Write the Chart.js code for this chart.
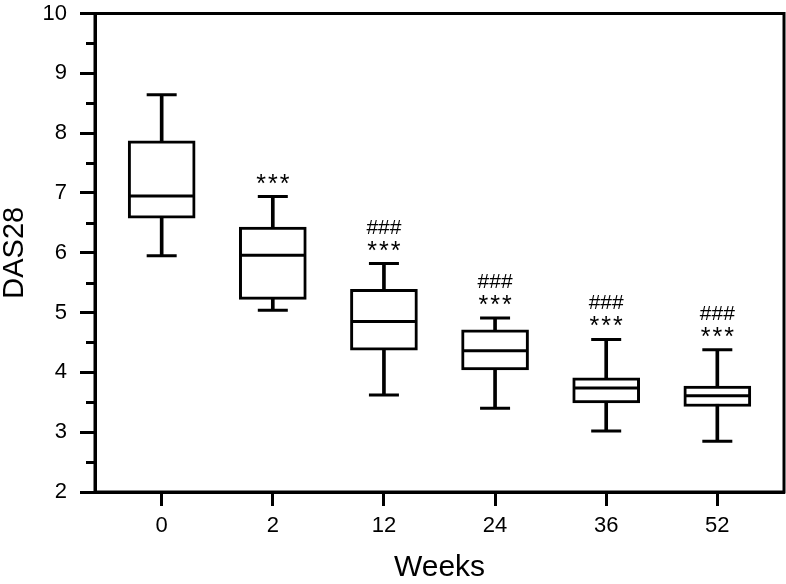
<!DOCTYPE html>
<html>
<head>
<meta charset="utf-8">
<script src="https://cdn.jsdelivr.net/npm/chart.js@4/dist/chart.umd.min.js"></script>
<style>
  body { margin: 0; background: #fff; }
  canvas { display: block; }
</style>
</head>
<body>
<canvas id="chart" width="786" height="584"></canvas>
<script>
// DAS28 per visit (box plot)
const weeks = ['0', '2', '12', '24', '36', '52'];
const whiskerLow = [5.95, 5.04, 3.62, 3.40, 3.02, 2.85];
const q1 = [6.58, 5.22, 4.37, 4.04, 3.49, 3.43];
const median = [6.95, 5.96, 4.85, 4.36, 3.74, 3.61];
const q3 = [7.87, 6.43, 5.39, 4.71, 3.91, 3.77];
const whiskerHigh = [8.64, 6.94, 5.82, 4.91, 4.55, 4.38];
// significance marks above each box
const vsBaseline = ['', '***', '***', '***', '***', '***'];
const vsWeek2 = ['', '', '###', '###', '###', '###'];
const yTicks = [2, 3, 4, 5, 6, 7, 8, 9, 10];

const FONT = '"Liberation Sans", Arial, Helvetica, sans-serif';
const point = (vals) => vals.map((v, i) => ({ x: i, y: v }));

// short ticks at the half units + frame round the plot
const framePlugin = {
  id: 'frame',
  afterDraw(chart) {
    const { ctx, chartArea, scales } = chart;
    ctx.save();
    ctx.strokeStyle = '#000';
    ctx.lineWidth = 3;
    for (let v = 2.5; v < 10; v += 1) {
      const y = Math.round(scales.y.getPixelForValue(v)) + 0.5;
      ctx.beginPath();
      ctx.moveTo(chartArea.left - 9, y);
      ctx.lineTo(chartArea.left, y);
      ctx.stroke();
    }
    ctx.strokeRect(chartArea.left, chartArea.top, chartArea.right - chartArea.left, chartArea.bottom - chartArea.top);
    ctx.restore();
  }
};

const marksPlugin = {
  id: 'marks',
  afterDatasetsDraw(chart) {
    const { ctx, scales } = chart;
    ctx.save();
    ctx.fillStyle = '#000';
    ctx.textAlign = 'center';
    ctx.textBaseline = 'alphabetic';
    weeks.forEach((w, i) => {
      const x = scales.x.getPixelForValue(i);
      const top = scales.y.getPixelForValue(whiskerHigh[i]);
      if (vsBaseline[i]) {
        ctx.font = '25px ' + FONT;
        ctx.letterSpacing = '2px';
        ctx.fillText(vsBaseline[i], x + 1, top - 5);
      }
      if (vsWeek2[i]) {
        ctx.font = '21px ' + FONT;
        ctx.letterSpacing = '0px';
        ctx.fillText(vsWeek2[i], x, top - 30);
      }
    });
    ctx.restore();
  }
};

const data = {
  datasets: [
    {
      type: 'line',
      data: point(median),
      showLine: false,
      pointStyle: 'line',
      pointRadius: 32,
      pointBorderWidth: 3,
      borderColor: '#000',
      order: 0
    },
    {
      type: 'line',
      data: point(whiskerHigh),
      showLine: false,
      pointStyle: 'line',
      pointRadius: 15,
      pointBorderWidth: 3,
      borderColor: '#000',
      order: 0
    },
    {
      type: 'line',
      data: point(whiskerLow),
      showLine: false,
      pointStyle: 'line',
      pointRadius: 15,
      pointBorderWidth: 3,
      borderColor: '#000',
      order: 0
    },
    {
      type: 'bar',
      data: weeks.map((w, i) => ({ x: i, y: [q1[i], q3[i]] })),
      backgroundColor: '#fff',
      borderColor: '#000',
      borderWidth: 3,
      borderSkipped: false,
      barThickness: 67,
      grouped: false,
      order: 1
    },
    {
      type: 'bar',
      data: weeks.map((w, i) => ({ x: i, y: [whiskerLow[i], whiskerHigh[i]] })),
      backgroundColor: '#000',
      borderWidth: 0,
      barThickness: 3,
      grouped: false,
      order: 2
    }
  ]
};

const options = {
  responsive: false,
  animation: false,
  events: [],
  layout: { autoPadding: false, padding: { top: 0, right: 2, left: 0, bottom: 0 } },
  plugins: {
    legend: { display: false },
    tooltip: { enabled: false }
  },
  scales: {
    x: {
      type: 'linear',
      offset: false,
      min: -0.6,
      max: 5.6,
      afterBuildTicks: (scale) => { scale.ticks = weeks.map((w, i) => ({ value: i })); },
      afterFit: (scale) => { scale.height = 92; },
      border: { display: true, color: '#000', width: 3 },
      grid: { offset: false, drawOnChartArea: false, color: '#000', tickLength: 14, tickWidth: 3 },
      ticks: {
        color: '#000',
        padding: 7,
        font: { family: FONT, size: 22 },
        callback: (value) => weeks[value]
      },
      title: {
        display: true,
        text: 'Weeks',
        color: '#000',
        font: { family: FONT, size: 30, lineHeight: 1 },
        padding: { top: 0, bottom: 1 }
      }
    },
    y: {
      min: 2,
      max: 10,
      afterBuildTicks: (scale) => { scale.ticks = yTicks.map((v) => ({ value: v })); },
      afterFit: (scale) => {
        scale.width = 95;
        scale.paddingTop = 13.5;
        scale.paddingBottom = 0;
      },
      border: { display: true, color: '#000', width: 3 },
      grid: { drawOnChartArea: false, color: '#000', tickLength: 15, tickWidth: 3 },
      ticks: {
        color: '#000',
        padding: 13,
        font: { family: FONT, size: 22 }
      },
      title: {
        display: true,
        text: 'DAS28',
        color: '#000',
        font: { family: FONT, size: 29, lineHeight: 1 },
        padding: { top: 0, bottom: 0 }
      }
    }
  }
};

new Chart(document.getElementById('chart'), {
  data,
  options,
  plugins: [framePlugin, marksPlugin]
});
</script>
</body>
</html>
